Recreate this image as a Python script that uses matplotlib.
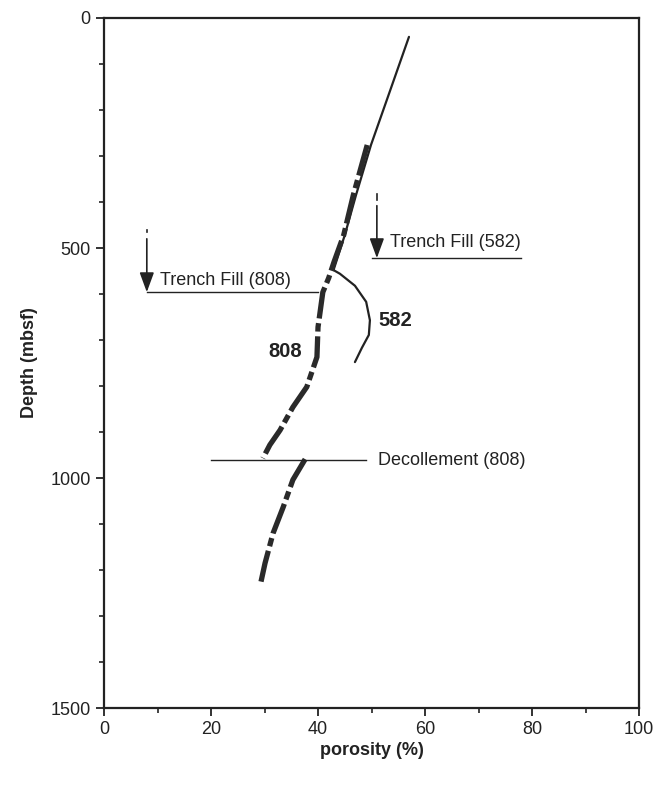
import matplotlib.pyplot as plt

# site 582 porosity profile (solid)
por_582 = [57.0, 53.5, 49.9, 47.1, 45.0, 43.4, 42.9, 44.1, 46.9, 49.0, 49.7, 49.5, 48.2, 46.9]
depth_582 = [41, 157, 276, 385, 472, 530, 548, 556, 582, 617, 657, 689, 717, 748]

# site 808 porosity profile (dashed), above and below the decollement
por_808_top = [49.2, 46.6, 44.8, 43.0, 42.0, 40.9, 40.0, 39.8, 37.9, 35.3, 32.9, 31.0, 29.7]
depth_808_top = [276, 385, 472, 530, 565, 596, 672, 737, 802, 846, 896, 928, 957]
por_808_bot = [37.6, 35.3, 33.5, 31.6, 30.1, 29.2]
depth_808_bot = [959, 1004, 1063, 1120, 1185, 1233]

trench_582 = 522
trench_808 = 596
decollement_808 = 961

plt.rcParams['font.family'] = ['Liberation Sans', 'DejaVu Sans']

fig = plt.figure(figsize=(6.55, 7.86), dpi=100)
ax = fig.add_axes([0.1588, 0.0992, 0.8168, 0.8779])

ax.plot(por_582, depth_582, color='#222222', lw=1.6, solid_capstyle='round')
dash = (6, 0.9, 1.6, 0.9)
l1, = ax.plot(por_808_top, depth_808_top, color='#2a2a2a', lw=3.8, dash_capstyle='butt')
l1.set_dashes(dash)
l2, = ax.plot(por_808_bot, depth_808_bot, color='#2a2a2a', lw=3.8, dash_capstyle='butt')
l2.set_dashes(dash)

# horizontal markers
ax.plot([50, 78], [trench_582, trench_582], color='#222222', lw=1.0)
ax.plot([8, 40], [trench_808, trench_808], color='#222222', lw=1.0)
ax.plot([20, 49], [decollement_808, decollement_808], color='#222222', lw=1.0)

# arrows
arrow = dict(arrowstyle='-|>,head_length=0.6,head_width=0.22', color='#222222', lw=1.2,
             mutation_scale=20, shrinkA=0, shrinkB=0)
ax.plot([51, 51], [383, 395], color='#222222', lw=1.2)
ax.annotate('', xy=(51, trench_582), xytext=(51, 408), arrowprops=arrow)
ax.plot([8, 8], [460, 466], color='#222222', lw=1.2)
ax.annotate('', xy=(8, trench_808), xytext=(8, 480), arrowprops=arrow)

ax.text(53.5, 489, 'Trench Fill (582)', fontsize=13, va='center', ha='left', color='#222222')
ax.text(10.5, 570, 'Trench Fill (808)', fontsize=13, va='center', ha='left', color='#222222')
ax.text(51.2, 961, 'Decollement (808)', fontsize=13, va='center', ha='left', color='#222222')
ax.text(51.2, 657, '582', fontsize=14.5, fontweight='bold', va='center', ha='left', color='#222222')
ax.text(33.8, 726, '808', fontsize=14.5, fontweight='bold', va='center', ha='center', color='#222222')

ax.set_xlim(0, 100)
ax.set_ylim(1500, 0)
ax.set_xticks(range(0, 101, 20))
ax.set_xticks(range(10, 100, 20), minor=True)
ax.set_yticks(range(0, 1501, 500))
ax.set_yticks([y for y in range(100, 1500, 100) if y % 500], minor=True)
ax.tick_params(which='major', direction='out', length=6, width=1.3, labelsize=13, colors='#222222')
ax.tick_params(which='minor', direction='out', length=3.5, width=1.2, colors='#222222')
for s in ax.spines.values():
    s.set_linewidth(1.6)
    s.set_color('#222222')

ax.set_xlabel('porosity (%)', fontsize=13, fontweight='bold', color='#222222', labelpad=3)
ax.set_ylabel('Depth (mbsf)', fontsize=13, fontweight='bold', color='#222222', labelpad=9)

plt.savefig('out.png', dpi=100)
